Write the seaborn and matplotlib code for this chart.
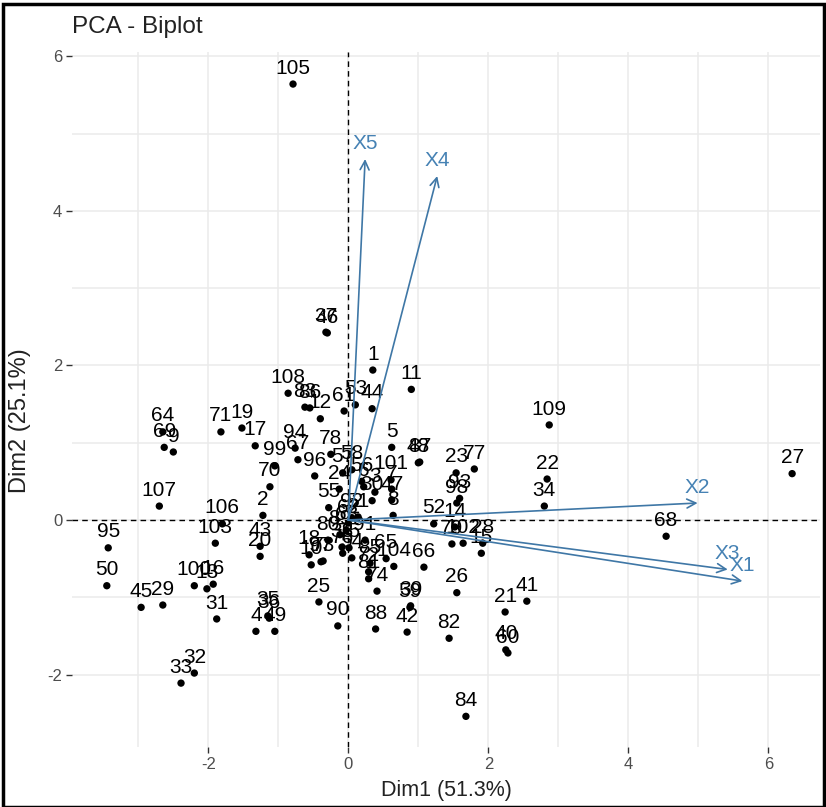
# PCA biplot - individuos (pontos) e variaveis (setas)
import numpy as np
import pandas as pd
import seaborn as sb
from matplotlib import pyplot as plt
from matplotlib.patches import Rectangle

# Coordenadas dos individuos
labels = list(range(1, 110))
dim1 = [0.35, -1.22, 0.38, -1.32, 0.62, 0.22, 0.62, 0.64, -2.50, -0.53,
        0.90, -0.40, -2.02, 1.52, 1.90, -1.93, -1.33, -0.56, -1.52, -1.26,
        2.24, 2.84, 1.54, -0.13, -0.42, 1.55, 6.34, 1.92, -2.65, 0.34,
        -1.88, -2.20, -2.39, 2.80, -1.15, -1.13, -0.32, -0.09, 0.89, 2.25,
        2.55, 0.84, -1.26, 0.34, -2.96, -0.30, 0.62, 1.00, -1.05, -3.45,
        0.14, 1.22, 0.10, 0.05, -0.28, 0.19, -0.08, 0.05, 0.88, 2.28,
        -0.06, 0.00, -0.03, -2.65, 0.54, 1.08, -0.72, 4.54, -2.63, -1.12,
        -1.82, 0.29, -0.36, 0.41, 0.01, -0.08, 1.80, -0.25, 1.48, -0.29,
        0.29, 1.44, -0.62, 1.68, 0.31, -0.55, 1.02, 0.39, -0.12, -0.15,
        0.24, 0.05, 1.59, -0.76, -3.43, -0.48, -0.39, 1.55, -1.05, -2.20,
        0.61, 1.64, -1.90, 0.65, -0.79, -1.80, -2.70, -0.86, 2.87]
dim2 = [1.94, 0.06, 0.36, -1.44, 0.94, 0.43, 0.40, 0.06, 0.88, -0.58,
        1.69, 1.31, -0.89, -0.09, -0.43, -0.83, 0.96, -0.45, 1.19, -0.47,
        -1.19, 0.53, 0.61, 0.40, -1.06, -0.94, 0.60, -0.30, -1.10, 0.25,
        -1.28, -1.98, -2.11, 0.18, -1.24, -1.27, 2.43, -0.35, -1.11, -1.68,
        -1.05, -1.45, -0.34, 1.44, -1.13, 2.42, 0.26, 0.74, -1.44, -0.85,
        0.04, -0.05, 1.49, -0.49, 0.16, 0.50, 0.61, 0.65, -1.13, -1.72,
        1.41, -0.04, -0.13, 1.14, -0.50, -0.61, 0.78, -0.21, 0.94, 0.43,
        1.14, -0.67, -0.53, -0.92, -0.36, -0.43, 0.66, 0.85, -0.31, -0.26,
        -0.76, -1.53, 1.46, -2.54, -0.56, 1.45, 0.75, -1.41, -0.19, -1.37,
        -0.26, 0.03, 0.28, 0.93, -0.36, 0.57, -0.54, 0.22, 0.70, -0.85,
        0.52, -0.30, -0.30, -0.60, 5.64, -0.05, 0.18, 1.64, 1.23]

# Coordenadas das variaveis (pontas das setas)
var_names = ['X1', 'X2', 'X3', 'X4', 'X5']
var_dim1 = [5.63, 4.99, 5.42, 1.27, 0.24]
var_dim2 = [-0.79, 0.22, -0.64, 4.45, 4.67]

ind = pd.DataFrame({'Dim1': dim1, 'Dim2': dim2, 'label': labels})

plt.rcParams['font.family'] = ['Liberation Sans', 'DejaVu Sans']
plt.rcParams['axes.unicode_minus'] = False
cor_var = '#4682B4'

fig = plt.figure(figsize=(8.26, 8.07), dpi=100)
ax = fig.add_axes([0.0872, 0.0743, 0.9056, 0.8612])

# Linhas tracejadas nos eixos
ax.axhline(0, color='black', linestyle=(0, (4, 3)), lw=1.0, zorder=1)
ax.axvline(0, color='black', linestyle=(0, (4, 3)), lw=1.0, zorder=1)

sb.scatterplot(data=ind, x='Dim1', y='Dim2', color='black', s=28,
               edgecolor='none', ax=ax, zorder=3, legend=False)
for x, y, lab in zip(dim1, dim2, labels):
    ax.annotate(str(lab), (x, y), xytext=(0, 7.5),
                textcoords='offset points', ha='center', va='baseline',
                fontsize=15, color='black', zorder=4)

# Setas das variaveis
for nome, vx, vy in zip(var_names, var_dim1, var_dim2):
    ax.annotate('', xy=(vx, vy), xytext=(0, 0),
                arrowprops=dict(arrowstyle='->', color='#3F77A6', lw=1.2,
                                mutation_scale=16, shrinkA=0, shrinkB=0),
                zorder=5)
    ax.annotate(nome, (vx, vy), xytext=(0, 7.5), textcoords='offset points',
                ha='center', va='baseline', fontsize=15, color=cor_var, zorder=5)

ax.set_xlim(-3.947, 6.739)
ax.set_ylim(-2.937, 6.054)
ax.set_xticks([-2, 0, 2, 4, 6])
ax.set_xticks([-3, -1, 1, 3, 5], minor=True)
ax.set_yticks([-2, 0, 2, 4, 6])
ax.set_yticks([-1, 1, 3, 5], minor=True)
ax.grid(True, which='both', color='#EBEBEB', lw=1.1, zorder=0)
ax.set_axisbelow(True)
for s in ax.spines.values():
    s.set_visible(False)
ax.tick_params(which='major', length=4, width=1, color='#333333',
               labelcolor='#4D4D4D', labelsize=12, pad=3)
ax.tick_params(which='minor', length=0)

ax.set_xlabel('Dim1 (51.3%)', fontsize=15.5, color='#222222', labelpad=6)
ax.set_ylabel('Dim2 (25.1%)', fontsize=17, color='#222222')
ax.yaxis.set_label_coords(-0.055, 0.47)
ax.set_title('PCA - Biplot', fontsize=17.5, loc='left', pad=14, color='#222222')

fig.patches.append(Rectangle((0.004, 0.0), 0.994, 0.995, transform=fig.transFigure,
                             fill=False, edgecolor='black', lw=2.5))

plt.savefig('out.png', dpi=100)
plt.close()
